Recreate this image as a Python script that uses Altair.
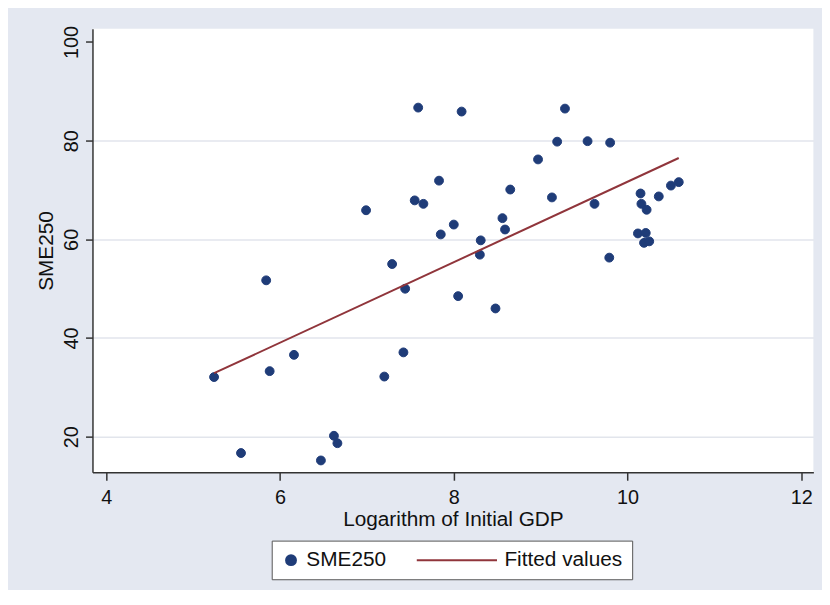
import altair as alt
import pandas as pd

# ---- data ----
GDP = [5.24, 5.55, 5.84, 5.88, 6.16, 6.47, 6.62, 6.66, 6.99, 7.20,
       7.29, 7.42, 7.44, 7.55, 7.59, 7.65, 7.83, 7.85, 8.00, 8.05,
       8.09, 8.30, 8.31, 8.48, 8.56, 8.59, 8.65, 8.97, 9.13, 9.19,
       9.28, 9.54, 9.62, 9.79, 9.80, 10.12, 10.15, 10.16, 10.19, 10.21,
       10.22, 10.25, 10.36, 10.50, 10.59]
SME = [32.1, 16.7, 51.7, 33.3, 36.6, 15.2, 20.2, 18.7, 65.9, 32.2,
       55.0, 37.1, 50.0, 67.9, 86.7, 67.2, 71.9, 61.0, 63.0, 48.5,
       85.9, 56.9, 59.8, 46.0, 64.3, 62.0, 70.1, 76.2, 68.5, 79.8,
       86.5, 79.9, 67.2, 56.3, 79.6, 61.2, 69.3, 67.2, 59.3, 61.3,
       66.0, 59.6, 68.7, 70.9, 71.6]
SERIES = ["SME250", "Fitted values"]
X_TICKS = [4, 6, 8, 10, 12]
Y_TICKS = [20, 40, 60, 80, 100]
X_TITLE = "Logarithm of Initial GDP"
Y_TITLE = "SME250"

# ---- styling ----
NAVY = "#1f3c78"
MAROON = "#90353b"
BG = "#e4e8f1"
GRID = "#e2e5ec"
AXIS = "#333333"
TEXT = "#111111"
FONT = "Liberation Sans"
W, H = 728, 448
LINE_PATH = "M -14.6,0 L 1.6,0"

df = pd.DataFrame({"gdp": GDP, "sme": SME, "series": SERIES[0]})

xscale = alt.Scale(domain=[3.84, 12.14], nice=False, zero=False)
yscale = alt.Scale(domain=[12.8, 102.7], nice=False, zero=False)
cscale = alt.Scale(domain=SERIES, range=[NAVY, MAROON])
sscale = alt.Scale(domain=SERIES, range=["circle", LINE_PATH])

legend = alt.Legend(
    title=None, orient="none", legendX=181, legendY=517,
    direction="horizontal", fillColor="white", strokeColor="#555555",
    padding=9, labelFont=FONT, labelFontSize=21, labelColor=TEXT,
    labelOffset=5, columnPadding=26, symbolSize=100,
    symbolStrokeWidth=2, symbolFillColor=NAVY,
)

x_axis = alt.Axis(
    values=X_TICKS, format="d", title=X_TITLE, grid=False,
    domainColor=AXIS, domainWidth=1.5, tickColor=AXIS, tickWidth=1.5,
    tickSize=8, labelFont=FONT, labelFontSize=20, labelColor=TEXT,
    labelBaseline="alphabetic", labelPadding=24, labelFlush=False,
    labelOverlap=False, titleFont=FONT, titleFontSize=21,
    titleFontWeight="normal", titleColor=TEXT, titleBaseline="alphabetic",
    titleAlign="center", titleX=W / 2, titleY=54,
)
y_axis = alt.Axis(
    values=Y_TICKS, format="d", title=Y_TITLE, grid=True,
    gridColor={"condition": {"test": "datum.value === 100", "value": "transparent"},
               "value": GRID},
    gridWidth=1.5,
    domainColor=AXIS, domainWidth=1.5, tickColor=AXIS, tickWidth=1.5,
    tickSize=7, labelFont=FONT, labelFontSize=20, labelColor=TEXT,
    labelAngle=270, labelAlign="center", labelBaseline="alphabetic",
    labelPadding=8, labelFlush=False, labelOverlap=False,
    titleFont=FONT, titleFontSize=21, titleFontWeight="normal",
    titleColor=TEXT, titleAngle=270, titleAlign="center",
    titleBaseline="alphabetic", titleX=-40.3, titleY=H / 2,
)

pts = alt.Chart(df).mark_point(
    filled=False, fill=NAVY, fillOpacity=1, opacity=1, size=80, strokeWidth=1
).encode(
    x=alt.X("gdp:Q", scale=xscale, axis=x_axis),
    y=alt.Y("sme:Q", scale=yscale, axis=y_axis),
    color=alt.Color("series:N", scale=cscale, legend=legend),
    shape=alt.Shape("series:N", scale=sscale, legend=legend),
)

fit = alt.Chart(df).transform_regression("gdp", "sme").transform_calculate(
    series="'Fitted values'"
).mark_line(strokeWidth=2).encode(
    x=alt.X("gdp:Q", scale=xscale),
    y=alt.Y("sme:Q", scale=yscale),
    color=alt.Color("series:N", scale=cscale, legend=legend),
)

chart = alt.layer(pts, fit).properties(
    width=W, height=H, background=BG,
    padding={"left": 85.3, "top": 18, "right": 8.7, "bottom": 116},
    autosize=alt.AutoSizeParams(type="none"),
).configure_view(stroke=None, fill="white")

chart.save("out.html", embed_options={"renderer": "svg", "actions": False})
